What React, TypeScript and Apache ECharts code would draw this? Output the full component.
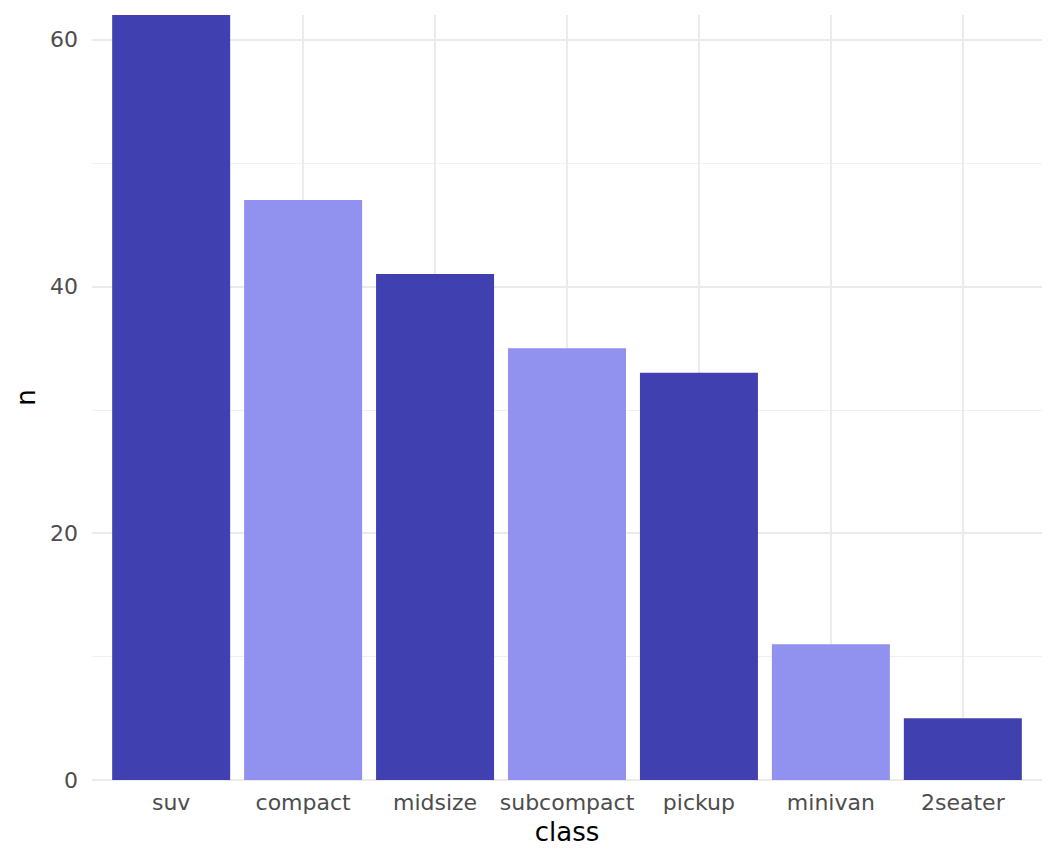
import React, { useEffect, useRef } from 'react';
import * as echarts from 'echarts';

const classes = ['suv', 'compact', 'midsize', 'subcompact', 'pickup', 'minivan', '2seater'];
const counts = [62, 47, 41, 35, 33, 11, 5];
const barColors = ['#4040b0', '#9191f0'];
const yTicks = [0, 20, 40, 60];
const yMinor = [10, 30, 50];

const FONT = 'DejaVu Sans';

const App: React.FC = () => {
  const chartRef = useRef<HTMLDivElement>(null);

  useEffect(() => {
    if (!chartRef.current) return;
    document.body.style.margin = '0';

    const chart = echarts.init(chartRef.current, undefined, { renderer: 'svg' });
    const positions = classes.map((_, i) => i);

    const options: echarts.EChartsOption = {
      animation: false,
      backgroundColor: '#ffffff',
      textStyle: { fontFamily: FONT },
      grid: { left: 92, right: 14, top: 15, bottom: 85 },
      xAxis: {
        type: 'value',
        min: -0.6,
        max: 6.6,
        name: 'class',
        nameLocation: 'middle',
        nameGap: 39,
        nameTextStyle: { color: '#000000', fontSize: 26, fontFamily: FONT },
        axisLine: { show: false },
        axisTick: { show: false, customValues: positions },
        axisLabel: {
          customValues: positions,
          color: '#4d4d4d',
          fontSize: 22,
          fontFamily: FONT,
          margin: 11,
          formatter: (v: number) => classes[Math.round(v)] ?? ''
        },
        splitLine: { show: true, lineStyle: { color: '#ebebeb', width: 2 } }
      },
      yAxis: [
        {
          type: 'value',
          min: 0,
          max: 62,
          name: 'n',
          nameLocation: 'middle',
          nameRotate: 90,
          nameGap: 53,
          nameTextStyle: { color: '#000000', fontSize: 26, fontFamily: FONT },
          axisLine: { show: false },
          axisTick: { show: false, customValues: yTicks },
          axisLabel: {
            color: '#4d4d4d',
            fontSize: 22,
            fontFamily: FONT,
            margin: 14,
            customValues: yTicks
          },
          splitLine: { show: true, lineStyle: { color: '#ebebeb', width: 2 } }
        },
        {
          // second axis only for the minor gridlines
          type: 'value',
          min: 0,
          max: 62,
          position: 'left',
          axisLine: { show: false },
          axisTick: { show: false, customValues: yMinor },
          axisLabel: { show: false, customValues: yMinor },
          splitLine: { show: true, lineStyle: { color: '#f0f0f0', width: 1.2 } }
        }
      ],
      series: [
        {
          type: 'bar',
          barWidth: 118,
          data: counts.map((c, i) => ({
            value: [i, c],
            itemStyle: { color: barColors[i % 2] }
          }))
        }
      ]
    };

    chart.setOption(options);

    return () => {
      chart.dispose();
    };
  }, []);

  return <div ref={chartRef} style={{ width: 1056, height: 865 }} />;
};

export default App;
